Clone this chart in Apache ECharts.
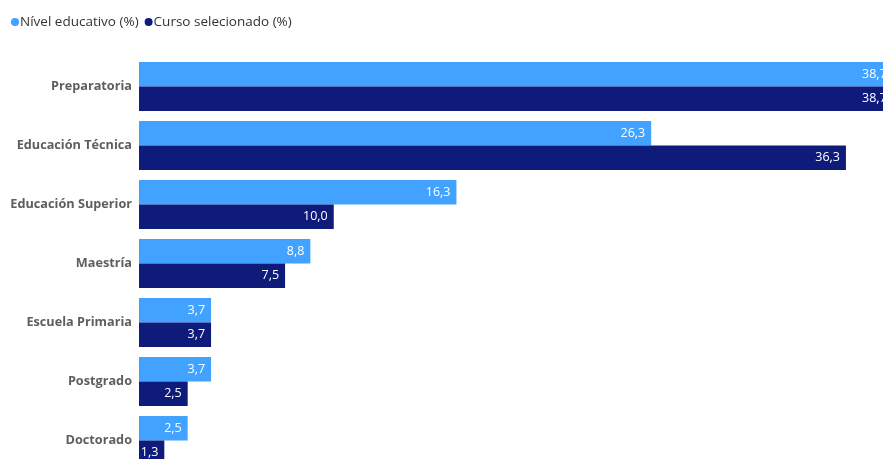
<!DOCTYPE html>
<html>
<head>
<meta charset="utf-8">
<script src="https://cdn.jsdelivr.net/npm/echarts@6/dist/echarts.min.js"></script>
<style>
html,body{margin:0;padding:0;overflow:hidden;background:#fff;width:883px;height:459px;}
#c{width:980px;height:490px;}
</style>
</head>
<body>
<div id="c"></div>
<script>
const categories = ['Preparatoria','Educación Técnica','Educación Superior','Maestría','Escuela Primaria','Postgrado','Doctorado'];
const nivelEducativo = [38.7, 26.3, 16.3, 8.8, 3.7, 3.7, 2.5];
const cursoSelecionado = [38.7, 36.3, 10.0, 7.5, 3.7, 2.5, 1.3];
const seriesNames = ['Nível educativo (%)', 'Curso selecionado (%)'];

const fmt = p => p.value.toFixed(1).replace('.', ',');
const chart = echarts.init(document.getElementById('c'), null, {renderer:'canvas'});
chart.setOption({
  animation:false,
  textStyle:{fontFamily:'Open Sans, Noto Sans, sans-serif'},
  legend:{
    left:6, top:10, itemWidth:8, itemHeight:8, itemGap:6, icon:'circle',
    textStyle:{fontSize:13.5, color:'#333', padding:[0,0,0,-4], fontFamily:'Open Sans, Noto Sans, sans-serif'},
    data:seriesNames
  },
  grid:{left:139, top:57, width:779, height:413, containLabel:false},
  xAxis:{type:'value', min:0, max:40, show:false},
  yAxis:{
    type:'category', inverse:true, data:categories,
    axisLine:{show:false}, axisTick:{show:false},
    axisLabel:{fontSize:12.7, fontWeight:'bold', color:'#605E5C', margin:7, padding:[4,0,0,0], fontFamily:'Open Sans, Noto Sans, sans-serif'}
  },
  series:[
    {name:seriesNames[0], type:'bar', data:nivelEducativo, barGap:'0%', barCategoryGap:'17%',
     itemStyle:{color:'#41A3FF'},
     label:{show:true, position:'insideRight', color:'#fff', fontSize:12.5, formatter:fmt, distance:6}},
    {name:seriesNames[1], type:'bar', data:cursoSelecionado, barGap:'0%', barCategoryGap:'17%',
     itemStyle:{color:'#0F1B7B'},
     label:{show:true, position:'insideRight', color:'#fff', fontSize:12.5, formatter:fmt, distance:6}}
  ]
});
</script>
</body>
</html>
